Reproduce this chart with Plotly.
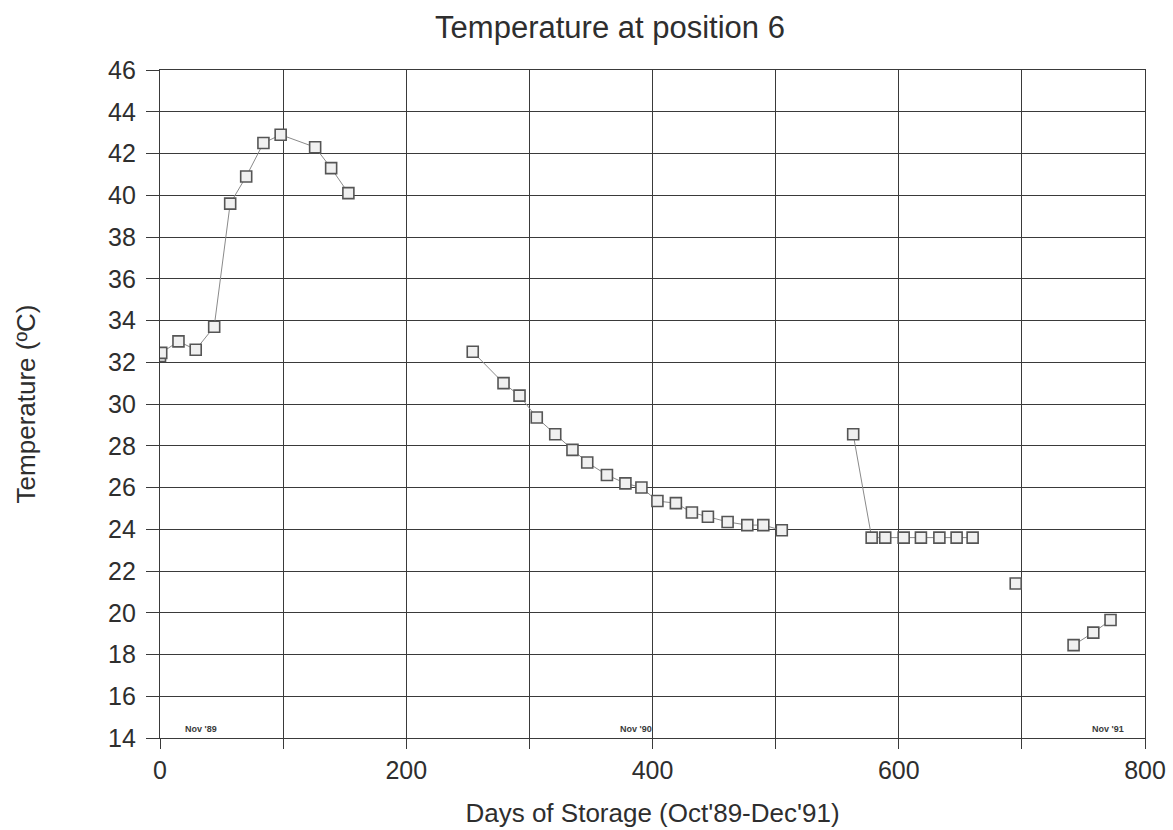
import plotly.graph_objects as go

# Segment data (days of storage, temperature in C)
days_1 = [0, 1, 15, 29, 44, 57, 70, 84, 98, 126, 139, 153]
temp_1 = [32.3, 32.45, 33.0, 32.6, 33.7, 39.6, 40.9, 42.5, 42.9, 42.3, 41.3, 40.1]

days_2 = [254, 279, 292, 306, 321, 335, 347, 363, 378, 391, 404, 419, 432, 445, 461, 477, 490, 505]
temp_2 = [32.5, 31.0, 30.4, 29.35, 28.55, 27.8, 27.2, 26.6, 26.2, 26.0, 25.35, 25.25, 24.8, 24.6, 24.35, 24.2, 24.2, 23.95]

days_3 = [563, 578, 589, 604, 618, 633, 647, 660]
temp_3 = [28.55, 23.6, 23.6, 23.6, 23.6, 23.6, 23.6, 23.6]

days_4 = [695]
temp_4 = [21.4]

days_5 = [742, 758, 772]
temp_5 = [18.45, 19.05, 19.65]

note_days = [33, 387, 770]
note_text = ["Nov '89", "Nov '90", "Nov '91"]

x_ticks = list(range(0, 801, 100))
x_labels = [str(v) if v % 200 == 0 else "" for v in x_ticks]
y_ticks = list(range(14, 47, 2))

FONT = "Liberation Sans, Arial, sans-serif"
INK = "#2e2e2e"

fig = go.Figure()
for dx, ty in [(days_1, temp_1), (days_2, temp_2), (days_3, temp_3), (days_4, temp_4), (days_5, temp_5)]:
    fig.add_trace(go.Scatter(
        x=dx, y=ty, mode="lines+markers",
        line=dict(color="#8a8a8a", width=1),
        marker=dict(symbol="square", size=11, color="#f0f0f0",
                    line=dict(color="#555555", width=1.6)),
        showlegend=False,
    ))

for d, t in zip(note_days, note_text):
    fig.add_annotation(x=d, y=14, yanchor="bottom", text="<b>" + t + "</b>", showarrow=False,
                       yshift=2, font=dict(family=FONT, size=9, color="#3a3a3a"))

fig.update_layout(
    width=1173, height=830,
    margin=dict(l=160, r=28, t=70, b=92),
    paper_bgcolor="white", plot_bgcolor="white",
    title=dict(text="Temperature at position 6", x=610 / 1173, xanchor="center",
               y=1 - 27 / 830, yanchor="middle",
               font=dict(family=FONT, size=31, color=INK)),
    font=dict(family=FONT, color=INK),
)
fig.update_xaxes(
    range=[0, 800], tickvals=x_ticks, ticktext=x_labels,
    showgrid=True, gridcolor="#3a3a3a", gridwidth=1.2,
    ticks="outside", ticklen=10, tickcolor="#3a3a3a", tickwidth=1.2,
    showline=True, linecolor="#3a3a3a", linewidth=1.2, mirror=True,
    zeroline=False, automargin=False,
    tickfont=dict(family=FONT, size=25, color=INK),
    title=dict(text="Days of Storage (Oct'89-Dec'91)", standoff=20,
               font=dict(family=FONT, size=26, color=INK)),
)
fig.update_yaxes(
    range=[14, 46], tickvals=y_ticks,
    showgrid=True, gridcolor="#3a3a3a", gridwidth=1.2,
    ticks="outside", ticklen=13, tickcolor="#3a3a3a", tickwidth=1.2,
    ticklabelstandoff=5,
    showline=True, linecolor="#3a3a3a", linewidth=1.2, mirror=True,
    zeroline=False, automargin=False,
    tickfont=dict(family=FONT, size=25, color=INK),
    title=dict(text="Temperature (ºC)", standoff=64,
               font=dict(family=FONT, size=26, color=INK)),
)

fig.write_html("out.html")
